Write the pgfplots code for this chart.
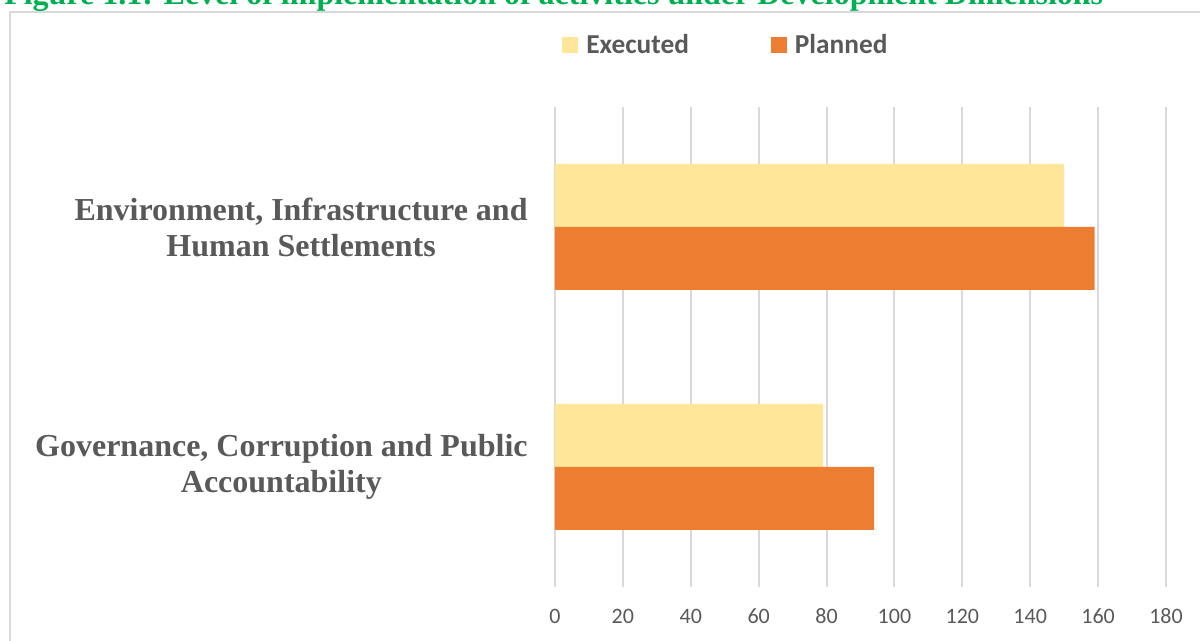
\documentclass[border=0pt]{standalone}
\usepackage{pgfplots}
\pgfplotsset{compat=1.18}
\usepackage{fontspec}
\setmainfont{Liberation Serif}
\newfontfamily\calibri{Carlito}
\definecolor{execc}{RGB}{255,230,153}
\definecolor{planc}{RGB}{237,125,49}
\definecolor{gridc}{RGB}{217,217,217}
\definecolor{labc}{RGB}{89,89,89}
\definecolor{titlec}{RGB}{0,176,80}
\begin{document}
\begin{tikzpicture}
\useasboundingbox (0pt,0pt) rectangle (900pt,480.75pt);
\clip (0pt,0pt) rectangle (900pt,480.75pt);
\draw[gridc, line width=1pt] (7.5pt,-10pt) -- (7.5pt,471.75pt) -- (920pt,471.75pt);
\node[anchor=base west, inner sep=0pt, text=titlec, font=\bfseries\fontsize{24}{28}\selectfont] at (3pt,477.5pt) {Figure 1.1: Level of implementation of activities under Development Dimensions};
\begin{axis}[
  at={(416.25pt,40.5pt)}, anchor=south west,
  width=458.25pt, height=360pt, scale only axis,
  xbar, xmin=0, xmax=180, ymin=-0.5, ymax=1.5,
  xtick={0,20,...,180},
  ytick={0,1},
  yticklabels={{Governance, Corruption and Public\\Accountability},{Environment, Infrastructure and\\Human Settlements}},
  xmajorgrids, grid style={gridc, line width=1.5pt},
  axis line style={draw=none},
  major tick length=0pt,
  /pgf/number format/assume math mode=true,
  xticklabel style={font=\calibri\fontsize{16.5}{20}\selectfont, text=labc, anchor=north, text height=11pt, text depth=0pt, yshift=-13pt},
  yticklabel style={font=\bfseries\fontsize{24}{27}\selectfont, text=labc, align=center, xshift=-17pt},
  bar width=0.2625,
  legend columns=2,
  legend style={at={(rel axis cs:0.01146,1.1292)}, anchor=west, draw=none, fill=none, inner sep=0pt,
    font=\calibri\bfseries\fontsize{20.5}{24}\selectfont, text=labc,
    nodes={inner sep=0pt},
    /tikz/every odd column/.append style={column sep=6pt},
    /tikz/every even column/.append style={column sep=61.5pt}},
]
\addplot[fill=execc, draw=none, bar shift=0.13125, legend image code/.code={\fill[execc] (0pt,-6pt) rectangle (12pt,6pt);}] coordinates {(79,0) (150,1)};
\addplot[fill=planc, draw=none, bar shift=-0.13125, legend image code/.code={\fill[planc] (0pt,-6pt) rectangle (12pt,6pt);}] coordinates {(94,0) (159,1)};
\legend{Executed, Planned}
\end{axis}
\end{tikzpicture}
\end{document}
